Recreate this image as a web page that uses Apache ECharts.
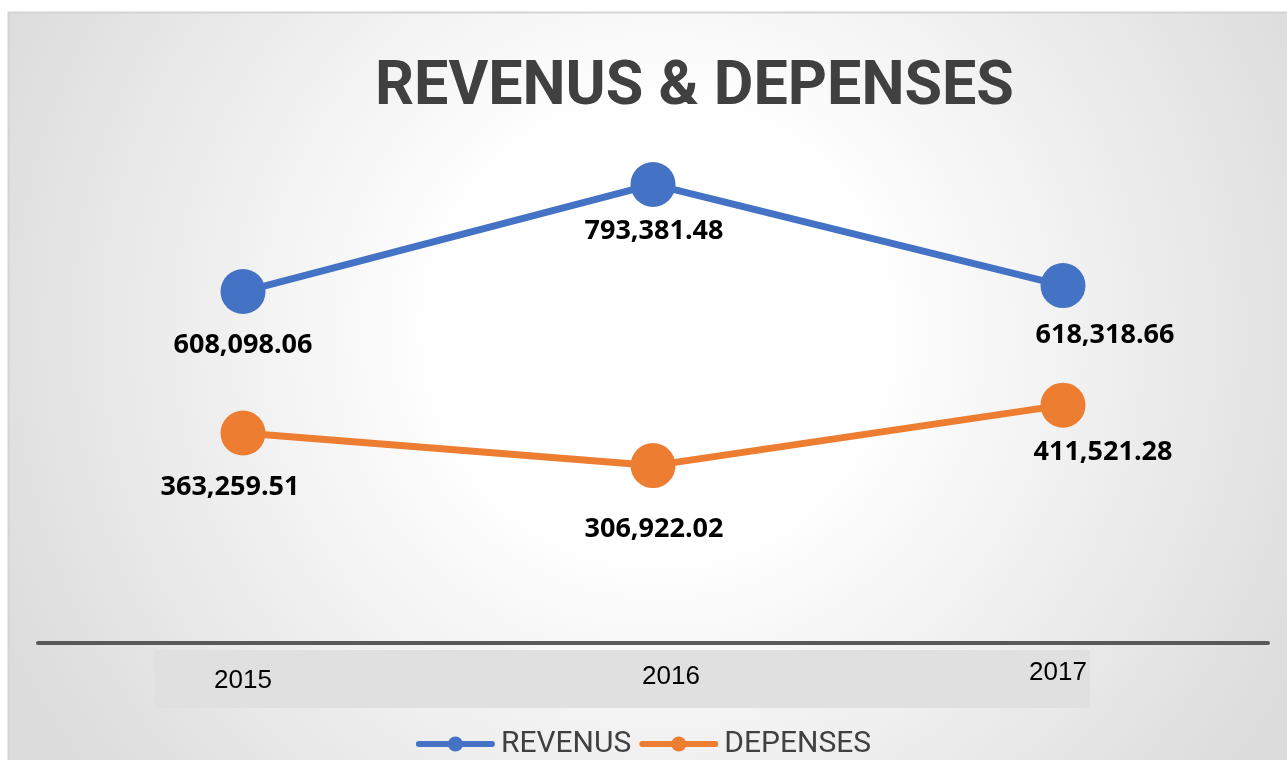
<!DOCTYPE html>
<html>
<head>
<meta charset="utf-8">
<script src="https://cdn.jsdelivr.net/npm/echarts@6/dist/echarts.min.js"></script>
<style>
  html, body { margin: 0; padding: 0; background: #fff; }
  #main { width: 1287px; height: 760px; }
</style>
</head>
<body>
<div id="main"></div>
<script>
// data
var years = ['2015', '2016', '2017'];
var revenus = [608098.06, 793381.48, 618318.66];
var depenses = [363259.51, 306922.02, 411521.28];

// label nudges (Excel labels were dragged by hand)
var revOffsets = [[0, 54], [1, 47], [42, 50]];
var depOffsets = [[-13, 54], [1, 64], [40, 47]];

var myChart = echarts.init(document.getElementById('main'));

function fmt(v) {
    return v.toLocaleString('en-US', {minimumFractionDigits: 2, maximumFractionDigits: 2});
}

var labelStyle = {
    show: true,
    position: 'inside',
    color: '#000',
    fontFamily: 'Open Sans',
    fontWeight: 'bold',
    fontSize: 27,
    formatter: function (p) { return fmt(p.value); }
};

function buildData(vals, offs) {
    return vals.map(function (v, i) {
        return {value: v, label: {offset: offs[i]}};
    });
}

option = {
    backgroundColor: '#fff',
    animation: false,
    graphic: [
        {
            type: 'rect', z: -10, silent: true,
            shape: {x: 8.5, y: 12.5, width: 1300, height: 760},
            style: {
                fill: {
                    type: 'radial', x: 0.5, y: 0.42, r: 0.95,
                    colorStops: [
                        {offset: 0, color: '#ffffff'},
                        {offset: 0.3, color: '#ffffff'},
                        {offset: 1, color: '#dcdcdc'}
                    ]
                },
                stroke: '#d4d4d4', lineWidth: 2
            }
        },
        {
            type: 'rect', z: -5, silent: true,
            shape: {x: 154, y: 650, width: 936, height: 58},
            style: {fill: '#e0e0e0'}
        }
    ],
    title: {
        text: 'REVENUS & DEPENSES',
        left: 370,
        top: 53,
        textStyle: {
            color: '#404040',
            fontFamily: 'Roboto',
            fontWeight: 'bold',
            fontSize: 61
        }
    },
    legend: {
        bottom: -4,
        left: 'center',
        itemWidth: 73,
        itemHeight: 19,
        itemGap: 8,
        lineStyle: {width: 6, cap: 'round'},
        textStyle: {
            color: '#404040',
            fontFamily: 'Roboto',
            fontSize: 30,
            padding: [0, 0, 0, 4]
        },
        data: ['REVENUS', 'DEPENSES']
    },
    grid: {left: 38, right: 19, top: 65, bottom: 117},
    xAxis: {
        type: 'category',
        data: years,
        boundaryGap: true,
        axisLine: {lineStyle: {color: '#595959', width: 4}},
        axisTick: {show: false},
        axisLabel: {
            margin: 17,
            color: '#000',
            fontFamily: 'Liberation Sans',
            fontSize: 26,
            formatter: function (v, i) { return '{c' + i + '|' + v + '}'; },
            rich: {
                c0: {fontFamily: 'Liberation Sans', fontSize: 26, color: '#000', padding: [8, 0, 0, 0]},
                c1: {fontFamily: 'Liberation Sans', fontSize: 26, color: '#000', padding: [4, 0, 0, 36]},
                c2: {fontFamily: 'Liberation Sans', fontSize: 26, color: '#000', padding: [0, 10, 0, 0]}
            }
        }
    },
    yAxis: {
        type: 'value',
        min: 0,
        max: 1000000,
        show: false,
        splitLine: {show: false}
    },
    series: [
        {
            name: 'REVENUS',
            type: 'line',
            symbol: 'circle',
            symbolSize: 45,
            color: '#4472C4',
            lineStyle: {width: 7, color: '#4472C4'},
            itemStyle: {color: '#4472C4'},
            label: labelStyle,
            data: buildData(revenus, revOffsets)
        },
        {
            name: 'DEPENSES',
            type: 'line',
            symbol: 'circle',
            symbolSize: 45,
            color: '#ED7D31',
            lineStyle: {width: 7, color: '#ED7D31'},
            itemStyle: {color: '#ED7D31'},
            label: labelStyle,
            data: buildData(depenses, depOffsets)
        }
    ]
};
myChart.setOption(option);
</script>
</body>
</html>
